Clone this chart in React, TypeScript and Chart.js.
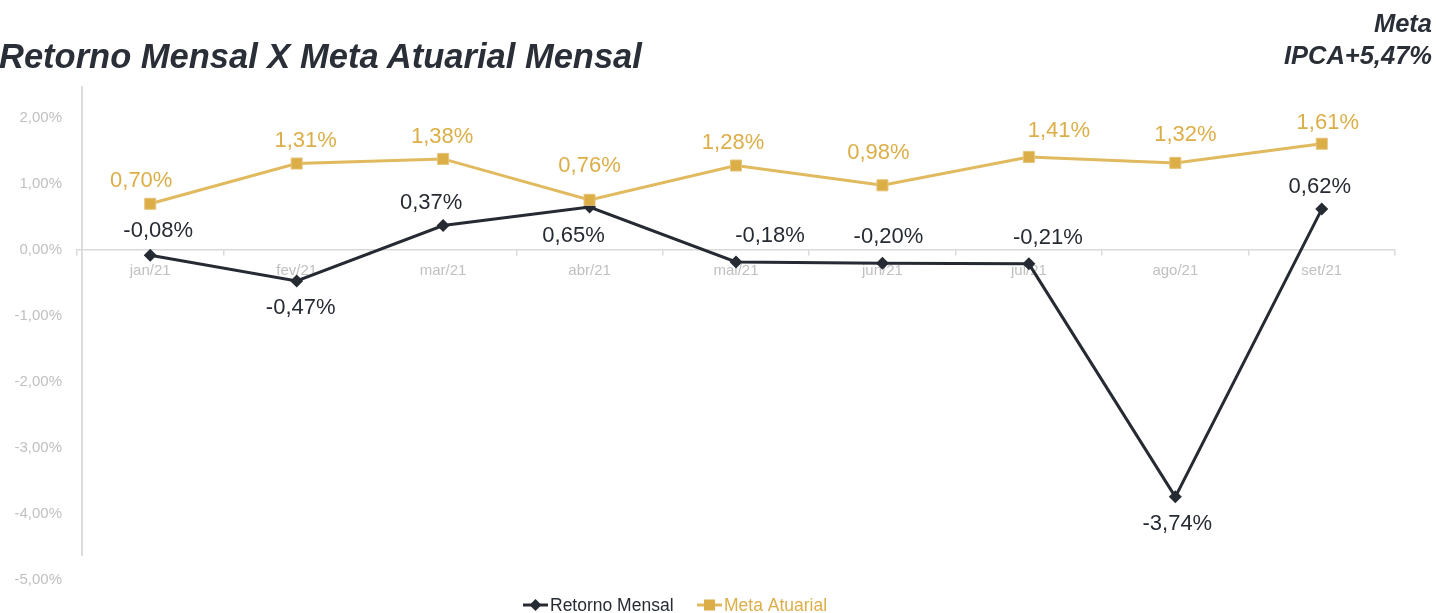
import { useEffect, useRef } from 'react';
import { Chart, registerables } from 'chart.js';

Chart.register(...registerables);

const categories = ['jan/21', 'fev/21', 'mar/21', 'abr/21', 'mai/21', 'jun/21', 'jul/21', 'ago/21', 'set/21'];
const retornoMensal = [-0.08, -0.47, 0.37, 0.65, -0.18, -0.2, -0.21, -3.74, 0.62];
const metaAtuarial = [0.7, 1.31, 1.38, 0.76, 1.28, 0.98, 1.41, 1.32, 1.61];
const yMin = -5;
const yMax = 2;
const yStep = 1;

const DARK = '#262b33';
const GOLD = '#dcae48';
const GOLD_LINE = '#e1b95f';
const FONT = "'Liberation Sans', Arial, sans-serif";

const fmt = (v: number) => v.toFixed(2).replace('.', ',') + '%';

// manual data-label placement (pixel offsets from each point), as in the original
const labelPlacement = {
  retorno: {
    dx: [8, 4, -12, -16, 34, 6, 19, 2, -2],
    dy: [-24, 27, -23, 29, -26, -26, -26, 27, -22],
  },
  meta: {
    dx: [-9, 9, -1, 0, -3, -4, 30, 10, 6],
    dy: [-23, -23, -22, -34, -23, -32, -26, -28, -21],
  },
};

const overlayPlugin = {
  id: 'overlay',
  beforeDatasetsDraw(chart: any) {
    const { ctx, chartArea } = chart;
    ctx.save();
    ctx.strokeStyle = '#dcdcdc';
    ctx.lineWidth = 2;
    ctx.beginPath();
    ctx.moveTo(chartArea.left + 5, chartArea.top - 32);
    ctx.lineTo(chartArea.left + 5, chartArea.bottom - 24);
    ctx.stroke();
    ctx.restore();
  },
  afterDatasetsDraw(chart: any) {
    const { ctx } = chart;
    ctx.save();
    ctx.font = `22px ${FONT}`;
    ctx.textAlign = 'center';
    ctx.textBaseline = 'middle';
    const places = [labelPlacement.retorno, labelPlacement.meta];
    const colors = [DARK, GOLD];
    chart.data.datasets.forEach((ds: any, di: number) => {
      const meta = chart.getDatasetMeta(di);
      meta.data.forEach((pt: any, i: number) => {
        const p = places[di];
        ctx.fillStyle = colors[di];
        ctx.fillText(fmt(ds.data[i]), pt.x + p.dx[i], pt.y + p.dy[i]);
      });
    });

    // legend
    const ly = 605;
    ctx.font = `17.5px ${FONT}`;
    ctx.textAlign = 'left';
    ctx.textBaseline = 'alphabetic';
    ctx.strokeStyle = DARK;
    ctx.lineWidth = 3;
    ctx.beginPath();
    ctx.moveTo(523, ly);
    ctx.lineTo(548, ly);
    ctx.stroke();
    ctx.fillStyle = DARK;
    ctx.beginPath();
    ctx.moveTo(535.5, ly - 6);
    ctx.lineTo(541.5, ly);
    ctx.lineTo(535.5, ly + 6);
    ctx.lineTo(529.5, ly);
    ctx.closePath();
    ctx.fill();
    ctx.fillText('Retorno Mensal', 550, 611);
    ctx.strokeStyle = GOLD_LINE;
    ctx.beginPath();
    ctx.moveTo(697, ly);
    ctx.lineTo(722, ly);
    ctx.stroke();
    ctx.fillStyle = GOLD;
    ctx.fillRect(704, ly - 5.5, 11, 11);
    ctx.fillText('Meta Atuarial', 724, 611);
    ctx.restore();
  },
};

export default function App() {
  const ref = useRef<HTMLCanvasElement | null>(null);
  useEffect(() => {
    if (!ref.current) return;
    const chart = new Chart(ref.current, {
      type: 'line',
      data: {
        labels: categories,
        datasets: [
          {
            label: 'Retorno Mensal',
            data: retornoMensal,
            borderColor: DARK,
            backgroundColor: DARK,
            borderWidth: 3,
            pointStyle: 'rectRot',
            pointRadius: 6.5,
            pointBorderWidth: 0,
            pointBackgroundColor: DARK,
            tension: 0,
            order: 1,
          },
          {
            label: 'Meta Atuarial',
            data: metaAtuarial,
            borderColor: GOLD_LINE,
            backgroundColor: GOLD,
            borderWidth: 3,
            pointStyle: 'rect',
            pointRadius: 7.8,
            pointBorderWidth: 1,
            pointBorderColor: '#e6c47a',
            pointBackgroundColor: GOLD,
            tension: 0,
            order: 0,
          },
        ],
      },
      options: {
        responsive: false,
        animation: false,
        layout: { padding: { top: 118, bottom: 33, right: 41, left: 0 } },
        plugins: {
          legend: { display: false },
          tooltip: { enabled: false },
          title: { display: false },
        },
        scales: {
          x: {
            type: 'category',
            position: { y: 0 } as any,
            offset: true,
            grid: {
              offset: true,
              drawOnChartArea: false,
              drawTicks: true,
              tickLength: 5,
              color: '#d9d9d9',
              lineWidth: 1.5,
            },
            border: { display: true, color: '#d9d9d9', width: 1.5 },
            ticks: {
              color: '#c0c0c0',
              font: { family: FONT, size: 15 },
              padding: 7,
              maxRotation: 0,
            },
          },
          y: {
            min: yMin,
            max: yMax,
            afterFit(scale: any) {
              scale.width = 77;
            },
            grid: { display: false },
            border: { display: false },
            ticks: {
              stepSize: yStep,
              color: '#c0c0c0',
              font: { family: FONT, size: 15 },
              padding: 7,
              callback: (v: any) => fmt(Number(v)),
            },
          },
        },
      },
      plugins: [overlayPlugin],
    });
    return () => chart.destroy();
  }, []);

  const titleStyle: any = {
    position: 'absolute',
    fontFamily: FONT,
    fontWeight: 'bold',
    fontStyle: 'italic',
    color: '#2a2f37',
    lineHeight: 1,
    whiteSpace: 'nowrap',
    margin: 0,
  };

  return (
    <div style={{ position: 'fixed', left: 0, top: 0, width: 1436, height: 613, background: '#fff', overflow: 'hidden' }}>
      <canvas ref={ref} width={1436} height={613} style={{ position: 'absolute', left: 0, top: 0, width: 1436, height: 613 }} />
      <div style={{ ...titleStyle, left: -1, top: 39, fontSize: 34.5 }}>Retorno Mensal X Meta Atuarial Mensal</div>
      <div style={{ ...titleStyle, right: 4, top: 11, fontSize: 25.5, textAlign: 'right' }}>Meta</div>
      <div style={{ ...titleStyle, right: 4, top: 43, fontSize: 25.5, textAlign: 'right' }}>IPCA+5,47%</div>
    </div>
  );
}
